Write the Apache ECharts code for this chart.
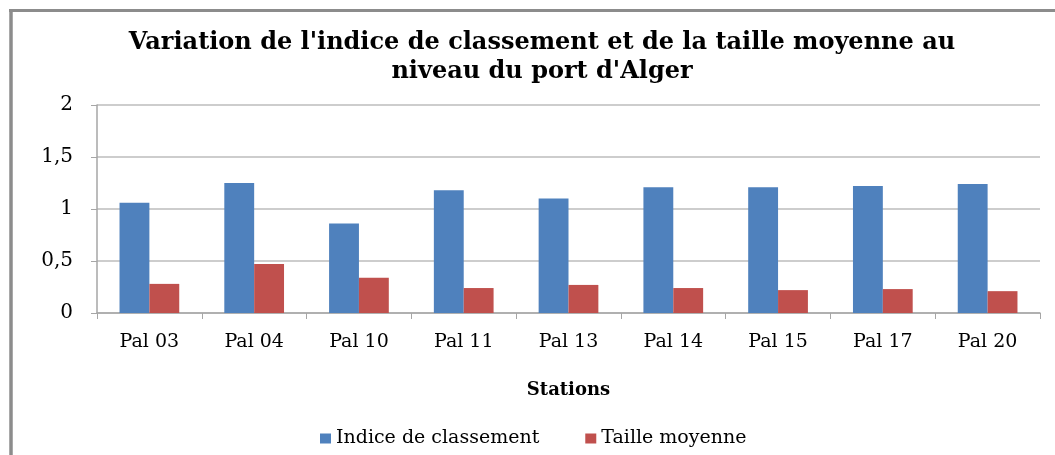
<!DOCTYPE html>
<html>
<head>
<meta charset="utf-8">
<script src="https://cdn.jsdelivr.net/npm/echarts@6/dist/echarts.min.js"></script>
<style>
  html, body { margin: 0; padding: 0; background: #fff; }
  #graph { width: 1055px; height: 455px; }
</style>
</head>
<body>
<div id="graph"></div>
<script>
const stations = ["Pal 03", "Pal 04", "Pal 10", "Pal 11", "Pal 13", "Pal 14", "Pal 15", "Pal 17", "Pal 20"];
const indiceClassement = [1.06, 1.25, 0.86, 1.18, 1.10, 1.21, 1.21, 1.22, 1.24];
const tailleMoyenne = [0.28, 0.47, 0.34, 0.24, 0.27, 0.24, 0.22, 0.23, 0.21];
const yTicks = [0, 0.5, 1, 1.5, 2];

const serif = "DejaVu Serif";

function createOptions() {
    return {
        animation: false,
        textStyle: { fontFamily: serif },
        graphic: [
            {
                type: "line",
                shape: { x1: 11, y1: 10, x2: 11, y2: 455 },
                style: { stroke: "#8c8c8c", lineWidth: 3.5 }
            },
            {
                type: "line",
                shape: { x1: 9, y1: 10.5, x2: 1055, y2: 10.5 },
                style: { stroke: "#8c8c8c", lineWidth: 3 }
            }
        ],
        title: {
            left: 537,
            textAlign: "center",
            top: 23,
            text: "Variation de l'indice de classement et de la taille moyenne au\nniveau du port d'Alger",
            textStyle: {
                fontFamily: serif,
                fontSize: 24,
                fontWeight: "bold",
                color: "#000",
                lineHeight: 29
            }
        },
        legend: {
            data: ["Indice de classement", "Taille moyenne"],
            left: 315,
            top: 424,
            itemWidth: 11,
            itemHeight: 10,
            itemGap: 46,
            icon: "rect",
            textStyle: { fontFamily: serif, fontSize: 19, color: "#000" }
        },
        grid: [
            {
                left: 97,
                right: 15,
                top: 105,
                height: 208
            }
        ],
        xAxis: [
            {
                type: "category",
                data: stations,
                name: "Stations",
                nameLocation: "middle",
                nameGap: 68,
                nameTextStyle: { fontFamily: serif, fontSize: 18, fontWeight: "bold", color: "#000" },
                axisLine: { lineStyle: { color: "#a6a6a6", width: 1.5 } },
                axisTick: { show: true, length: 6, lineStyle: { color: "#a6a6a6" } },
                axisLabel: { fontFamily: serif, fontSize: 19, color: "#000", margin: 20 }
            }
        ],
        yAxis: [
            {
                type: "value",
                min: 0,
                max: 2,
                interval: 0.5,
                axisLine: { show: true, lineStyle: { color: "#a6a6a6", width: 1.5 } },
                axisTick: { show: true, length: 6, lineStyle: { color: "#a6a6a6" } },
                splitLine: { lineStyle: { color: "#bdbdbd", width: 1.5 } },
                axisLabel: {
                    fontFamily: serif,
                    fontSize: 20,
                    color: "#000",
                    margin: 24,
                    formatter: function (v) {
                        return yTicks.indexOf(v) >= 0 ? String(v).replace(".", ",") : "";
                    }
                }
            }
        ],
        series: [
            {
                name: "Indice de classement",
                type: "bar",
                data: indiceClassement,
                barGap: "0%",
                barCategoryGap: "43%",
                itemStyle: { color: "#4f81bd" }
            },
            {
                name: "Taille moyenne",
                type: "bar",
                data: tailleMoyenne,
                barGap: "0%",
                barCategoryGap: "43%",
                itemStyle: { color: "#c0504d" }
            }
        ]
    };
}

const myChart = echarts.init(document.getElementById('graph'));
myChart.setOption(createOptions());
</script>
</body>
</html>
